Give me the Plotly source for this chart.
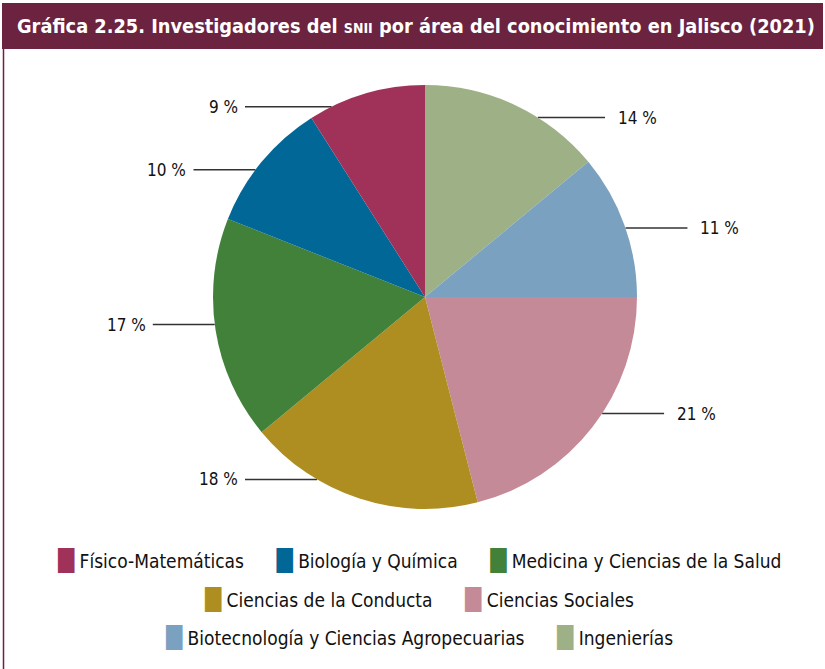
import math
import plotly.graph_objects as go

# ---- data ----
categories = ["Físico-Matemáticas", "Biología y Química", "Medicina y Ciencias de la Salud",
              "Ciencias de la Conducta", "Ciencias Sociales",
              "Biotecnología y Ciencias Agropecuarias", "Ingenierías"]
values = [9, 10, 17, 18, 21, 11, 14]
colors = ["#A0325A", "#006796", "#42813A", "#AE8E20", "#C58A98", "#7BA1C0", "#9DB086"]
legend_rows = [[0, 1, 2], [3, 4], [5, 6]]
title_main = "Gráfica 2.25. Investigadores del "
title_small = "SNII"
title_rest = " por área del conocimiento en Jalisco (2021)"

W, H = 825, 669
CX, CY, R = 425, 297, 212
FONT = "DejaVu Sans Condensed, Liberation Sans Narrow, sans-serif"

def px(x):
    return x / W

def py(y):
    return 1 - y / H

# pie drawn clockwise from 12 o'clock; slices in reverse of legend order
labels_cw = categories[::-1]
values_cw = values[::-1]
colors_cw = colors[::-1]

fig = go.Figure(go.Pie(
    labels=labels_cw, values=values_cw, sort=False, direction="clockwise",
    rotation=0, marker=dict(colors=colors_cw, line=dict(width=0)),
    textinfo="none", hoverinfo="label+percent", showlegend=False,
    domain=dict(x=[px(CX - R), px(CX + R)], y=[py(CY + R), py(CY - R)]),
))

shapes = []
annotations = []

# percentage labels with horizontal leader lines
total = sum(values_cw)
cum = 0
for v in values_cw:
    mid = (cum + v / 2) / total * 2 * math.pi  # clockwise from top
    cum += v
    s = math.sin(mid)
    ly = CY - 0.92 * R * math.cos(mid) - 3
    dy = ly - CY
    ex = math.sqrt(max(R * R - dy * dy, 0))
    dist = max(180, ex + 62)
    pct = round(v / total * 100)
    lfont = dict(family=FONT, size=17, color="#111111")
    if s < 0:
        edge, outer = CX - ex, CX - dist
        annotations.append(dict(x=px(outer - 5), y=py(ly), xref="paper", yref="paper",
                                text=f"{pct} %", showarrow=False, xanchor="right",
                                yanchor="middle", font=lfont))
    else:
        edge, outer = CX + ex, CX + dist
        annotations.append(dict(x=px(outer + 11), y=py(ly), xref="paper", yref="paper",
                                text=f"{pct} %", showarrow=False, xanchor="left",
                                yanchor="middle", font=lfont))
    shapes.append(dict(type="line", xref="paper", yref="paper",
                       x0=px(outer), x1=px(edge), y0=py(ly), y1=py(ly),
                       line=dict(color="#333333", width=1.5), layer="below"))

# title bar
shapes.append(dict(type="rect", xref="paper", yref="paper", x0=px(2), x1=px(823),
                   y0=py(49), y1=py(3), fillcolor="#6B2340", line=dict(width=0), layer="below"))
# left border
shapes.append(dict(type="line", xref="paper", yref="paper", x0=px(3.5), x1=px(3.5),
                   y0=py(49), y1=py(669), line=dict(color="#6B2340", width=1.5)))
annotations.append(dict(x=px(416), y=py(26), xref="paper", yref="paper", showarrow=False,
                        xanchor="center", yanchor="middle",
                        text=f"<b>{title_main}<span style='font-size:14px'>{title_small}</span>{title_rest}</b>",
                        font=dict(family=FONT, size=19.8, color="white")))

# manual centered legend rows
row_y = [561, 600, 638]
for r, row in enumerate(legend_rows):
    parts = []
    for i in row:
        parts.append(f"<span style='font-family:DejaVu Sans;font-size:21px;color:{colors[i]}'>█</span>"
                     f" {categories[i]}")
    annotations.append(dict(x=px(419), y=py(row_y[r]), xref="paper", yref="paper",
                            showarrow=False, xanchor="center", yanchor="middle",
                            text="      ".join(parts),
                            font=dict(family=FONT, size=19, color="#111111")))

fig.update_layout(width=W, height=H, margin=dict(l=0, r=0, t=0, b=0),
                  paper_bgcolor="white", plot_bgcolor="white",
                  shapes=shapes, annotations=annotations)
fig.write_html("out.html", config={"displayModeBar": False},
               post_script="document.body.style.margin='0';")
